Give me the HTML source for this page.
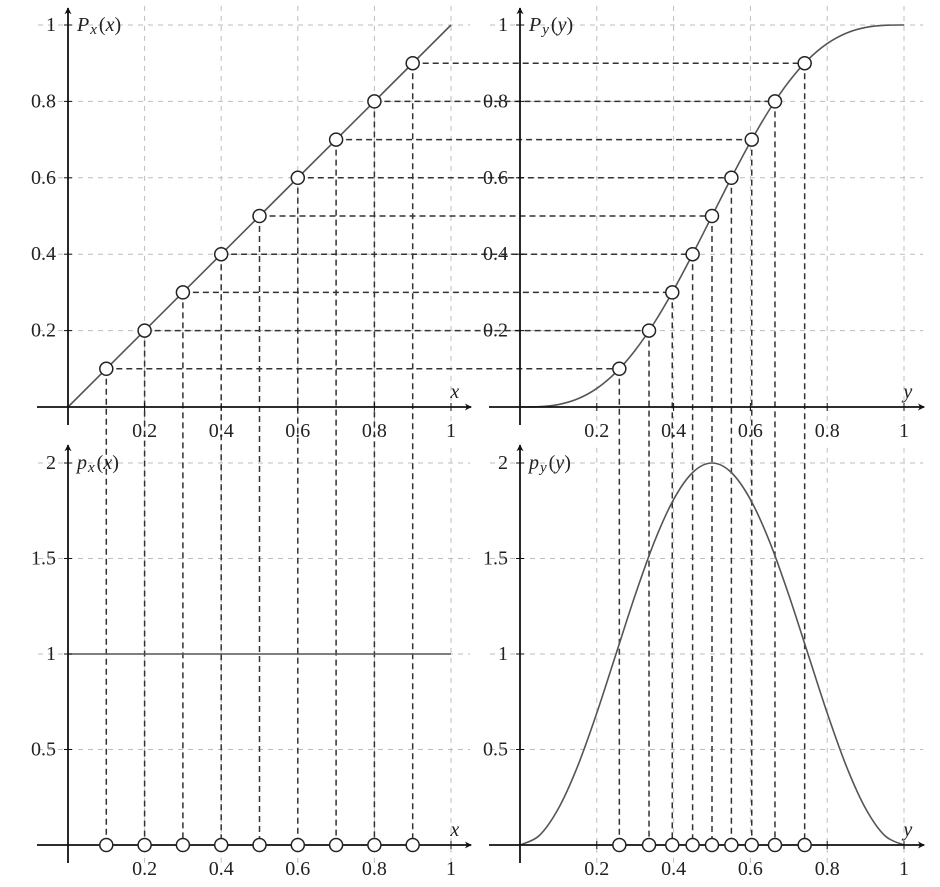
<!DOCTYPE html>
<html><head><meta charset="utf-8">
<style>
html,body{margin:0;padding:0;background:#fff;}
svg{display:block;}
text{font-family:"Liberation Serif",serif;font-size:20px;fill:#222;}
.it{font-style:italic;}
</style></head>
<body>
<svg id="fig" width="940" height="887" viewBox="0 0 940 887" xmlns="http://www.w3.org/2000/svg">
<g id="grid"></g>
<g id="drops"></g>
<g id="curves"></g>
<g id="axes"></g>
<g id="marks"></g>
</svg>
<script>
// sample points
const xLevels = [0.1,0.2,0.3,0.4,0.5,0.6,0.7,0.8,0.9];
const yLevels = [0.2587,0.336,0.3965,0.4495,0.5,0.5505,0.6035,0.664,0.7413];
// curve samples for y-distribution
const ySamples = [0,0.05,0.1,0.15,0.2,0.25,0.3,0.35,0.4,0.45,0.5,0.55,0.6,0.65,0.7,0.75,0.8,0.85,0.9,0.95,1];
const cdfSamples = [0,0.0008,0.0064,0.0212,0.0486,0.0908,0.1486,0.2212,0.3064,0.4008,0.5,0.5992,0.6936,0.7788,0.8514,0.9092,0.9514,0.9788,0.9936,0.9992,1];
const pdfSamples = [0,0.049,0.191,0.412,0.691,1,1.309,1.588,1.809,1.951,2,1.951,1.809,1.588,1.309,1,0.691,0.412,0.191,0.049,0];
const xLineX = [0,1];
const cdfLineX = [0,1];
const pdfLineX = [1,1];
const tickTop = [0.2,0.4,0.6,0.8,1];
const tickTopLabels = ["0.2","0.4","0.6","0.8","1"];
const tickBot = [0.5,1,1.5,2];
const tickBotLabels = ["0.5","1","1.5","2"];

const NS="http://www.w3.org/2000/svg";
const P={
 tl:{ox:68,oy:407,sx:383,sy:382},
 tr:{ox:520,oy:407,sx:384,sy:382},
 bl:{ox:68,oy:845,sx:383,sy:191},
 br:{ox:520,oy:845,sx:384,sy:191}
};
const X=(p,v)=>p.ox+v*p.sx, Y=(p,v)=>p.oy-v*p.sy;
function mk(tag,attrs,parent){const e=document.createElementNS(NS,tag);for(const k in attrs)e.setAttribute(k,attrs[k]);parent.appendChild(e);return e;}
const G=id=>document.getElementById(id);

// grid
for(const key of ["tl","tr","bl","br"]){
 const p=P[key];const top=key[0]==="t";
 const ys=top?tickTop:tickBot;const ymax=top?1.05:2.08;
 for(const v of tickTop){
  const l=mk("line",{x1:X(p,v),x2:X(p,v),y1:Y(p,ymax),y2:p.oy+22,stroke:"#bdbdbd","stroke-width":1,"stroke-dasharray":"5,5"},G("grid"));
  
  
 }
 for(const v of ys){
  const l=mk("line",{x1:p.ox-30,x2:X(p,1.05),y1:Y(p,v),y2:Y(p,v),stroke:"#bdbdbd","stroke-width":1,"stroke-dasharray":"5,5"},G("grid"));
  
  
 }
}

// curves
function smooth(p,xs,ys){
 const pts=xs.map((x,i)=>[X(p,x),Y(p,ys[i])]);
 let d="M"+pts[0][0]+","+pts[0][1];
 for(let i=0;i<pts.length-1;i++){
  const p0=pts[Math.max(0,i-1)],p1=pts[i],p2=pts[i+1],p3=pts[Math.min(pts.length-1,i+2)];
  const c1=[p1[0]+(p2[0]-p0[0])/6,p1[1]+(p2[1]-p0[1])/6];
  const c2=[p2[0]-(p3[0]-p1[0])/6,p2[1]-(p3[1]-p1[1])/6];
  d+=" C"+c1+" "+c2+" "+p2;
 }
 return d;
}
const cs={fill:"none",stroke:"#555","stroke-width":1.6};
let c;
c=mk("path",Object.assign({d:smooth(P.tl,xLineX,cdfLineX)},cs),G("curves"));


c=mk("path",Object.assign({d:smooth(P.bl,xLineX,pdfLineX)},cs),G("curves"));


c=mk("path",Object.assign({d:smooth(P.tr,ySamples,cdfSamples)},cs),G("curves"));


c=mk("path",Object.assign({d:smooth(P.br,ySamples,pdfSamples)},cs),G("curves"));



// drop lines
const ds={stroke:"#333","stroke-width":1.5,"stroke-dasharray":"6,4"};
xLevels.forEach((xv,i)=>{
 const yv=yLevels[i];
 let l=mk("line",Object.assign({x1:X(P.tl,xv),y1:Y(P.tl,xv),x2:X(P.tr,yv),y2:Y(P.tr,xv)},ds),G("drops"));
 
 
 l=mk("line",Object.assign({x1:X(P.tl,xv),y1:Y(P.tl,xv),x2:X(P.bl,xv),y2:P.bl.oy},ds),G("drops"));
 
 
 l=mk("line",Object.assign({x1:X(P.tr,yv),y1:Y(P.tr,xv),x2:X(P.br,yv),y2:P.br.oy},ds),G("drops"));
 
 
});

// axes
const defs=mk("defs",{},G("fig"));
const m=mk("marker",{id:"ar",viewBox:"0 0 10 10",refX:9,refY:5,markerWidth:7,markerHeight:7,orient:"auto-start-reverse",markerUnits:"userSpaceOnUse"},defs);
mk("path",{d:"M0,0 L10,5 L0,10 L3,5 Z",fill:"#111"},m);
function txt(x,y,s,anchor,parent,name,cls){
 const t=mk("text",{x:x,y:y,"text-anchor":anchor,"dominant-baseline":"central"},parent);
 if(cls)t.setAttribute("class",cls);
 t.textContent=s;
 
 
 return t;
}
function lbl(x,y,main,sub,arg,name){
 const t=mk("text",{x:x,y:y,"dominant-baseline":"central","font-size":"22px"},G("axes"));
 
 
 const a=mk("tspan",{"font-style":"italic"},t);a.textContent=main;
 const b=mk("tspan",{"font-style":"italic","font-size":"15px",dy:5,dx:1},t);b.textContent=sub;
 const c1=mk("tspan",{dy:-5,dx:2},t);c1.textContent="(";
 const d=mk("tspan",{"font-style":"italic"},t);d.textContent=arg;
 const e=mk("tspan",{},t);e.textContent=")";
}
const info={tl:["P","x","x"],tr:["P","y","y"],bl:["p","x","x"],br:["p","y","y"]};
for(const key in P){
 const p=P[key];const top=key[0]==="t";
 let a=mk("line",{x1:p.ox-31,y1:p.oy,x2:X(p,1.05)+1,y2:p.oy,stroke:"#111","stroke-width":1.8,"marker-end":"url(#ar)"},G("axes"));
 
 
 const ytop=top?p.oy-399:p.oy-400;
 a=mk("line",{x1:p.ox,y1:p.oy+18,x2:p.ox,y2:ytop,stroke:"#111","stroke-width":1.8,"marker-end":"url(#ar)"},G("axes"));
 
 
 tickTop.forEach((v,i)=>{
  mk("line",{x1:X(p,v),x2:X(p,v),y1:p.oy-4,y2:p.oy+4,stroke:"#111","stroke-width":1},G("axes"));
  txt(X(p,v),p.oy+24,tickTopLabels[i],"middle",G("axes"),"x-tick-label");
 });
 const yt=top?tickTop:tickBot, yl=top?tickTopLabels:tickBotLabels;
 yt.forEach((v,i)=>{
  mk("line",{x1:p.ox-4,x2:p.ox+4,y1:Y(p,v),y2:Y(p,v),stroke:"#111","stroke-width":1},G("axes"));
  txt(p.ox-12,Y(p,v),yl[i],"end",G("axes"),"y-tick-label");
 });
 txt(X(p,1.01),p.oy-15,info[key][2],"middle",G("axes"),"x-axis-title","it");
 lbl(p.ox+9,top?Y(p,1):Y(p,2),info[key][0],info[key][1],info[key][2],"y-axis-title");
}

// markers
function circ(x,y,name){
 const c=mk("circle",{cx:x,cy:y,r:6.5,fill:"#fff",stroke:"#222","stroke-width":1.5},G("marks"));
 
 
}
xLevels.forEach((xv,i)=>{
 const yv=yLevels[i];
 circ(X(P.tl,xv),Y(P.tl,xv),"cdf-x-point");
 circ(X(P.tr,yv),Y(P.tr,xv),"cdf-y-point");
 circ(X(P.bl,xv),P.bl.oy,"x-sample-point");
 circ(X(P.br,yv),P.br.oy,"y-sample-point");
});
</script>
</body></html>
